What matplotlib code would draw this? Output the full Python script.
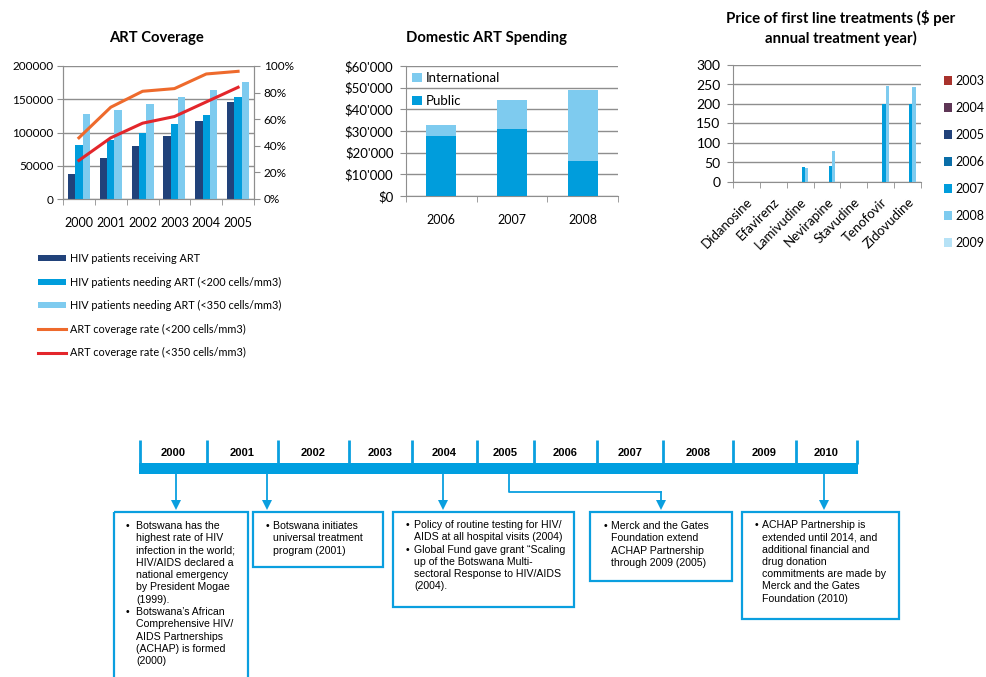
import numpy as np
import matplotlib.pyplot as plt
import matplotlib.ticker as ticker
from matplotlib.patches import Rectangle

plt.rcParams['font.family'] = ['Lato', 'DejaVu Sans']

W, H = 986, 677

# --- ART coverage ---
art_years = ['2000', '2001', '2002', '2003', '2004', '2005']
receiving = [38000, 61000, 80000, 94000, 118000, 146000]
need_200 = [81000, 89000, 100000, 113000, 126000, 153000]
need_350 = [128000, 134000, 143000, 153000, 164000, 176000]
rate_200 = [0.46, 0.69, 0.81, 0.83, 0.94, 0.96]
rate_350 = [0.29, 0.46, 0.57, 0.62, 0.73, 0.84]

# --- Domestic ART spending ---
spend_years = ['2006', '2007', '2008']
public = [27500, 31000, 16000]
international = [5500, 13500, 33000]

# --- Price of first line treatments ---
drugs = ['Didanosine', 'Efavirenz', 'Lamivudine', 'Nevirapine', 'Stavudine', 'Tenofovir', 'Zidovudine']
price_years = ['2003', '2004', '2005', '2006', '2007', '2008', '2009']
price_2003 = [0, 0, 0, 0, 0, 0, 0]
price_2004 = [0, 0, 0, 0, 0, 0, 0]
price_2005 = [0, 0, 0, 0, 0, 0, 0]
price_2006 = [0, 0, 0, 0, 0, 0, 0]
price_2007 = [0, 0, 38, 42, 0, 200, 200]
price_2008 = [0, 0, 37, 80, 0, 246, 243]
price_2009 = [0, 0, 0, 0, 0, 0, 0]
prices = [price_2003, price_2004, price_2005, price_2006, price_2007, price_2008, price_2009]
price_colors = ['#A8322C', '#5E3656', '#21427A', '#0A6EA8', '#009DDC', '#7ECBEF', '#B6E2F6']

# --- Timeline ---
tl_years = ['2000', '2001', '2002', '2003', '2004', '2005', '2006', '2007', '2008', '2009', '2010']
tl_edges = [140, 207, 278, 349, 412, 477, 534, 597, 663, 733, 796, 857]
box1 = [['Botswana has the', 'highest rate of HIV', 'infection in the world;', 'HIV/AIDS declared a',
         'national emergency', 'by President Mogae', '(1999).'],
        ['Botswana\u2019s African', 'Comprehensive HIV/', 'AIDS Partnerships', '(ACHAP) is formed', '(2000)']]
box2 = [['Botswana initiates', 'universal treatment', 'program (2001)']]
box3 = [['Policy of routine testing for HIV/', 'AIDS at all hospital visits (2004)'],
        ['Global Fund gave grant \u201cScaling', 'up of the Botswana Multi-',
         'sectoral Response to HIV/AIDS', '(2004).']]
box4 = [['Merck and the Gates', 'Foundation extend', 'ACHAP Partnership', 'through 2009 (2005)']]
box5 = [['ACHAP Partnership is', 'extended until 2014, and', 'additional financial and',
         'drug donation', 'commitments are made by', 'Merck and the Gates', 'Foundation (2010)']]

GRID = '#8E8E8E'
BLUE = '#0A9FDF'


def rect(l, t, r, b):
    return [l / W, 1 - b / H, (r - l) / W, (b - t) / H]


def px(x, y):
    return x / W, 1 - y / H


fig = plt.figure(figsize=(W / 100, H / 100), dpi=100)

# ---------------- ART Coverage ----------------
ax1 = fig.add_axes(rect(63, 66, 254, 199))
x = np.arange(len(art_years))
w = 0.23
b1 = ax1.bar(x - w, receiving, w, color='#21427A', zorder=3, label='HIV patients receiving ART')
b2 = ax1.bar(x, need_200, w, color='#009DDC', zorder=3, label='HIV patients needing ART (<200 cells/mm3)')
b3 = ax1.bar(x + w, need_350, w, color='#7ECBEF', zorder=3, label='HIV patients needing ART (<350 cells/mm3)')
ax1.set_ylim(0, 200000)
ax1.set_xlim(-0.5, len(art_years) - 0.5)
ax1.yaxis.set_major_locator(ticker.MultipleLocator(50000))
ax1.grid(axis='y', color=GRID, linewidth=1, zorder=0)
ax1.set_axisbelow(True)
ax1.set_xticks(x, art_years)
ax1.set_xticks(np.arange(-0.5, len(art_years), 1), minor=True)
ax1.tick_params(axis='x', which='major', length=0, pad=13, labelsize=9)
ax1.tick_params(axis='x', which='minor', length=4, color=GRID)
ax1.tick_params(axis='y', length=4, color=GRID, labelsize=8.5, pad=3)
ax1.spines['top'].set_visible(False)
for s in ['left', 'right', 'bottom']:
    ax1.spines[s].set_color(GRID)

ax1r = ax1.twinx()
l1, = ax1r.plot(x, rate_200, color='#EE6A2C', linewidth=2.2, label='ART coverage rate (<200 cells/mm3)')
l2, = ax1r.plot(x, rate_350, color='#E3262B', linewidth=2.2, label='ART coverage rate (<350 cells/mm3)')
ax1r.set_ylim(0, 1)
ax1r.yaxis.set_major_locator(ticker.MultipleLocator(0.2))
ax1r.yaxis.set_major_formatter(ticker.PercentFormatter(1.0, decimals=0))
ax1r.tick_params(axis='y', length=4, color=GRID, labelsize=8.5, pad=3)
ax1r.spines['top'].set_visible(False)
for s in ['left', 'right', 'bottom']:
    ax1r.spines[s].set_color(GRID)

fig.text(*px(156, 38), 'ART Coverage', ha='center', va='center', fontsize=10.6, fontweight='bold')
fig.legend(handles=[b1, b2, b3, l1, l2], loc='upper left', bbox_to_anchor=px(38, 253),
           frameon=False, fontsize=7.8, handlelength=2.6, handleheight=0.5, handletextpad=0.4,
           labelspacing=1.15, borderpad=0, borderaxespad=0)

# ---------------- Domestic ART Spending ----------------
ax2 = fig.add_axes(rect(406, 66, 618, 196))
xs = np.arange(len(spend_years))
p1 = ax2.bar(xs, public, 0.42, color='#009DDC', zorder=3, label='Public')
p2 = ax2.bar(xs, international, 0.42, bottom=public, color='#7ECBEF', zorder=3, label='International')
ax2.set_ylim(0, 60000)
ax2.set_xlim(-0.5, len(spend_years) - 0.5)
ax2.yaxis.set_major_locator(ticker.MultipleLocator(10000))
ax2.yaxis.set_major_formatter(ticker.FuncFormatter(lambda v, p: '$' + f'{int(v):,}'.replace(',', "'")))
ax2.grid(axis='y', color=GRID, linewidth=1, zorder=0)
ax2.set_axisbelow(True)
ax2.set_xticks(xs, spend_years)
ax2.set_xticks(np.arange(-0.5, len(spend_years), 1), minor=True)
ax2.tick_params(axis='x', which='major', length=0, pad=13, labelsize=9)
ax2.tick_params(axis='x', which='minor', length=4, color=GRID)
ax2.tick_params(axis='y', length=4, color=GRID, labelsize=9.5, pad=5)
ax2.spines['top'].set_visible(False)
ax2.spines['right'].set_visible(False)
ax2.spines['left'].set_color(GRID)
ax2.spines['bottom'].set_color(GRID)
ax2.legend(handles=[p2, p1], loc='upper left', bbox_to_anchor=(0.03, 0.955), frameon=False,
           fontsize=9.5, handlelength=0.7, handleheight=0.7, handletextpad=0.3,
           labelspacing=0.85, borderpad=0, borderaxespad=0)
fig.text(*px(487, 38), 'Domestic ART Spending', ha='center', va='center', fontsize=10.7, fontweight='bold')

# ---------------- Price of first line treatments ----------------
ax3 = fig.add_axes(rect(733, 65, 921, 182))
xd = np.arange(len(drugs))
bw = 0.12
handles = []
for i, (yr, vals, c) in enumerate(zip(price_years, prices, price_colors)):
    h = ax3.bar(xd + (i - 3) * bw, vals, bw, color=c, zorder=3, label=yr)
    handles.append(h)
ax3.set_ylim(0, 300)
ax3.set_xlim(-0.5, len(drugs) - 0.5)
ax3.yaxis.set_major_locator(ticker.MultipleLocator(50))
ax3.grid(axis='y', color=GRID, linewidth=1, zorder=0)
ax3.set_axisbelow(True)
ax3.set_xticks(xd)
ax3.set_xticklabels(drugs, rotation=45, ha='right', va='top', rotation_mode='anchor')
ax3.set_xticks(np.arange(-0.5, len(drugs), 1), minor=True)
ax3.tick_params(axis='x', which='major', length=0, pad=10, labelsize=9.5)
ax3.tick_params(axis='x', which='minor', length=4, color=GRID)
ax3.tick_params(axis='y', length=4, color=GRID, labelsize=10, pad=5)
ax3.spines['top'].set_visible(False)
ax3.spines['right'].set_visible(False)
ax3.spines['left'].set_color(GRID)
ax3.spines['bottom'].set_color(GRID)
fig.legend(handles=handles, loc='upper left', bbox_to_anchor=px(944, 75), frameon=False,
           fontsize=9, handlelength=0.65, handleheight=0.65, handletextpad=0.3,
           labelspacing=1.2, borderpad=0, borderaxespad=0)
fig.text(*px(841, 28), 'Price of first line treatments ($ per\nannual treatment year)',
         ha='center', va='center', fontsize=10.8, fontweight='bold', linespacing=1.4)

# ---------------- Timeline ----------------
ov = fig.add_axes([0, 0, 1, 1])
ov.set_xlim(0, W)
ov.set_ylim(H, 0)
ov.axis('off')
ov.patch.set_visible(False)

ov.add_patch(Rectangle((139, 463), 858 - 139, 11, facecolor='#009FE0', edgecolor='none'))
for e in tl_edges:
    ov.plot([e, e], [440, 464], color=BLUE, linewidth=2, solid_capstyle='butt')
for i, yr in enumerate(tl_years):
    ov.text((tl_edges[i] + tl_edges[i + 1]) / 2, 453, yr, ha='center', va='center',
            fontsize=8, fontweight='bold', family='Liberation Sans')


def arrow(xa, y0, y1):
    ov.plot([xa, xa], [y0, y1 - 3], color=BLUE, linewidth=1.3)
    ov.plot(xa, y1, marker='v', markersize=7, color=BLUE, markeredgewidth=0)


arrow(176, 474, 505)
arrow(267, 474, 505)
arrow(443, 474, 505)
ov.plot([509, 509, 661], [474, 492, 492], color=BLUE, linewidth=1.3)
arrow(661, 492, 505)
arrow(824, 474, 505)


def box(l, t, r, b, items, bx, tx, y0, step=12.3):
    ov.add_patch(Rectangle((l, t), r - l, b - t, facecolor='none', edgecolor=BLUE, linewidth=1.6))
    y = y0
    for item in items:
        ov.text(bx, y, '\u2022', ha='center', va='center', fontsize=7.5, family='Liberation Sans')
        for line in item:
            ov.text(tx, y, line, ha='left', va='center', fontsize=7.6, family='Liberation Sans')
            y += step


box(114, 512, 248, 700, box1, 127, 136, 526)
box(253, 512, 383, 567, box2, 267, 273, 526)
box(393, 512, 574, 607, box3, 407, 414, 525)
box(590, 512, 732, 581, box4, 605, 611, 526)
box(742, 512, 899, 619, box5, 756, 762, 525)

fig.savefig('out.png', dpi=100)
